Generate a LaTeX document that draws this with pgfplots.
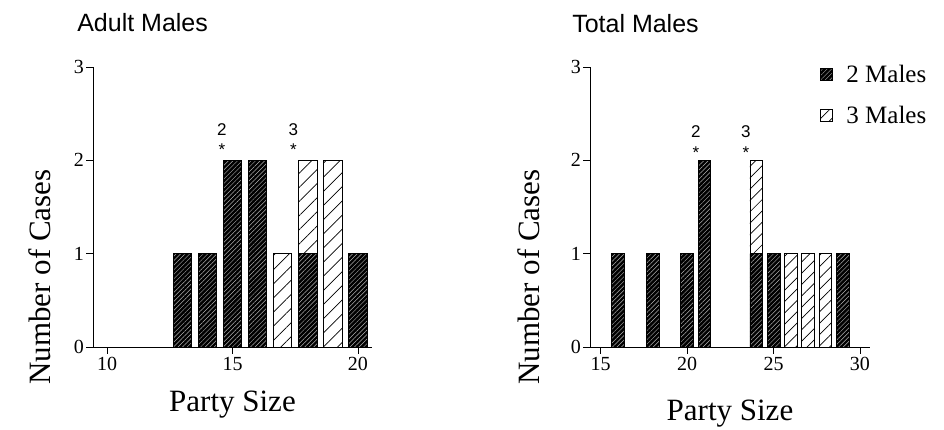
\documentclass[border=0pt]{standalone}
\usepackage{fontspec}
\setmainfont{Liberation Serif}
\newfontfamily\hv{Liberation Sans}
\usepackage{pgfplots}
\pgfplotsset{compat=1.18}
\usetikzlibrary{patterns.meta}

\newcommand{\tkfont}{\fontsize{20}{20}\selectfont}
\pgfplotsset{
  darkbar/.style={draw=black, line width=0.7pt, fill=black,
    postaction={pattern color=black!30, pattern={Lines[angle=45,distance=3.2pt,line width=0.45pt]}}},
  lightbar/.style={draw=black, line width=0.7pt, fill=white,
    postaction={pattern color=black, pattern={Lines[angle=45,distance=#1,line width=0.7pt]}}},
  myaxis/.style={
    scale only axis,
    axis lines*=left,
    axis line style={-, line width=0.8pt},
    ymin=0, ymax=3, ytick={0,1,2,3},
    tick align=outside, major tick length=7pt,
    tick style={black, line width=0.8pt},
    /pgf/number format/assume math mode=true,
    xticklabel={\tkfont\pgfmathprintnumber{\tick}},
    yticklabel={\tkfont\pgfmathprintnumber{\tick}},
    yticklabel style={inner sep=2pt},
    ybar stacked, bar width=0.73,
    label style={font=\fontsize{31}{31}\selectfont},
    title style={font=\hv\fontsize{25}{25}\selectfont, anchor=base west, inner sep=0pt},
    clip=false,
  },
}

\begin{document}
\begin{tikzpicture}
\path[use as bounding box] (0,0) rectangle (944pt,430pt);

% ---------- Adult Males ----------
\begin{axis}[myaxis,
  at={(93pt,83pt)}, anchor=south west,
  width=279pt, height=280pt,
  xmin=9.44, xmax=20.56, xtick={10,15,20},
  title={Adult Males},
  title style={at={(axis description cs:-0.057,1.104)}},
  xlabel={Party Size},
  xlabel style={at={(axis description cs:0.5,-0.232)}, anchor=base},
  ylabel={Number of Cases},
  ylabel style={at={(axis description cs:-0.19,0.25)}, anchor=center},
]
\addplot[darkbar] coordinates {(13,1) (14,1) (15,2) (16,2) (17,0) (18,1) (19,0) (20,1)};
\addplot[lightbar=10pt] coordinates {(13,0) (14,0) (15,0) (16,0) (17,1) (18,1) (19,2) (20,0)};
\node[anchor=base, font=\hv\fontsize{17}{17}\selectfont] at (axis cs:14.58,2.27) {2};
\node[anchor=base, font=\hv\fontsize{17}{17}\selectfont] at (axis cs:14.58,2.05) {*};
\node[anchor=base, font=\hv\fontsize{17}{17}\selectfont] at (axis cs:17.43,2.27) {3};
\node[anchor=base, font=\hv\fontsize{17}{17}\selectfont] at (axis cs:17.43,2.05) {*};
\end{axis}

% ---------- Total Males ----------
\begin{axis}[myaxis,
  at={(590pt,83pt)}, anchor=south west,
  width=280pt, height=280pt,
  xmin=14.38, xmax=30.58, xtick={15,20,25,30},
  title={Total Males},
  title style={at={(axis description cs:-0.064,1.1)}},
  xlabel={Party Size},
  xlabel style={at={(axis description cs:0.5,-0.264)}, anchor=base},
  ylabel={Number of Cases},
  ylabel style={at={(axis description cs:-0.218,0.25)}, anchor=center},
  legend image code/.code={\draw[#1,line width=0.6pt] (0pt,-6pt) rectangle (12pt,6pt); \path (24pt,0pt);},
  legend style={at={(axis description cs:0.82,1.015)}, anchor=north west,
    draw=none, fill=none, font=\fontsize{25}{25}\selectfont,
    row sep=18pt, inner sep=0pt},
  legend cell align=left,
]
\addplot[darkbar] coordinates {(16,1) (17,0) (18,1) (19,0) (20,1) (21,2) (22,0) (23,0) (24,1) (25,1) (26,0) (27,0) (28,0) (29,1)};
\addlegendentry{2 Males}
\addplot[lightbar=8pt] coordinates {(16,0) (17,0) (18,0) (19,0) (20,0) (21,0) (22,0) (23,0) (24,1) (25,0) (26,1) (27,1) (28,1) (29,0)};
\addlegendentry{3 Males}
\node[anchor=base, font=\hv\fontsize{17}{17}\selectfont] at (axis cs:20.51,2.24) {2};
\node[anchor=base, font=\hv\fontsize{17}{17}\selectfont] at (axis cs:20.51,2.02) {*};
\node[anchor=base, font=\hv\fontsize{17}{17}\selectfont] at (axis cs:23.40,2.24) {3};
\node[anchor=base, font=\hv\fontsize{17}{17}\selectfont] at (axis cs:23.40,2.02) {*};
\end{axis}
\end{tikzpicture}
\end{document}
